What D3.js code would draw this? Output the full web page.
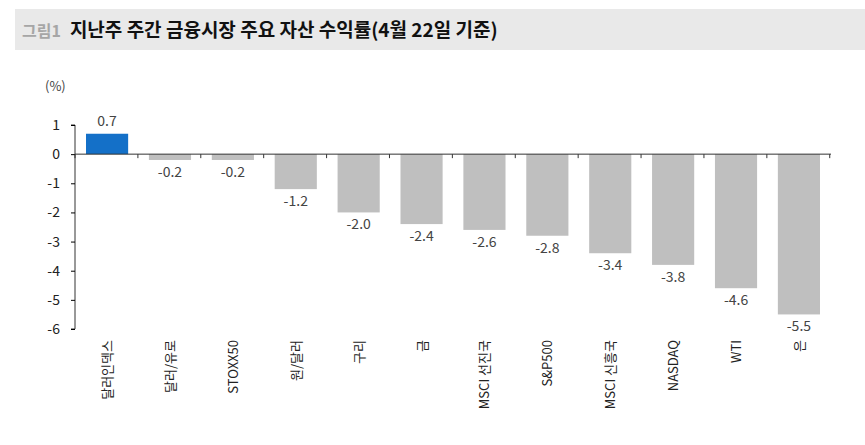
<!DOCTYPE html><html><head><meta charset="utf-8"><script src="https://cdn.jsdelivr.net/npm/d3@7"></script>
<style>body{margin:0;background:#fff}text{font-family:"Noto Sans CJK KR",sans-serif}</style></head><body>
<svg id="c" width="865" height="445"></svg>
<script>
const categories=["달러인덱스","달러/유로","STOXX50","원/달러","구리","금","MSCI 선진국","S&P500","MSCI 신흥국","NASDAQ","WTI","은"];
const values=[0.7,-0.2,-0.2,-1.2,-2.0,-2.4,-2.6,-2.8,-3.4,-3.8,-4.6,-5.5];
const yTicks=[1,0,-1,-2,-3,-4,-5,-6];
const svg=d3.select("#c");
svg.append("rect").attr("x",15).attr("y",9).attr("width",850).attr("height",41).attr("fill","#e9e9e9");
const t=svg.append("text").attr("x",22).attr("y",37).attr("font-size",19).attr("font-weight",600);
t.append("tspan").attr("fill","#a6a6a6").attr("font-size",16).text("그림1");
t.append("tspan").attr("dx",9).attr("fill","#111").text("지난주 주간 금융시장 주요 자산 수익률(4월 22일 기준)");
const x=d3.scaleBand().domain(categories).range([75,831]).paddingInner(0.33).paddingOuter(0.175);
const y=d3.scaleLinear().domain([-6,1]).range([329,125]);
svg.append("text").attr("x",45).attr("y",91).attr("font-size",13).attr("fill","#444").text("(%)");
const ya=svg.append("g").attr("transform","translate(75,0)").call(d3.axisLeft(y).tickValues(yTicks).tickSize(4).tickFormat(d3.format("d")));
ya.select(".domain").attr("stroke","#333").attr("d","M-4,"+y(1)+"H0V"+y(-6)+"H-4");
ya.selectAll("text").attr("font-size",14).attr("fill","#222").attr("dx",-8).text(d=>d<0?"-"+Math.abs(d):d);
svg.selectAll(".bar").data(values).join("rect").attr("x",(d,i)=>x(categories[i])).attr("width",x.bandwidth())
 .attr("y",d=>y(Math.max(0,d))).attr("height",d=>Math.abs(y(d)-y(0))).attr("fill",(d,i)=>i==0?"#1470c8":"#bfbfbf");
const step=x.step();
const xa=svg.append("g").attr("transform",`translate(0,${y(0)})`);
xa.append("line").attr("x1",75).attr("x2",831).attr("stroke","#333");
d3.range(categories.length+1).forEach(i=>xa.append("line").attr("x1",75+i*step).attr("x2",75+i*step).attr("y1",0).attr("y2",4).attr("stroke","#333"));
svg.selectAll(".vl").data(values).join("text").attr("x",(d,i)=>x(categories[i])+x.bandwidth()/2)
 .attr("y",d=>d>0?y(d)-8:y(d)+17).attr("text-anchor","middle").attr("font-size",14).attr("fill","#444")
 .text(d=>d<0?"-"+Math.abs(d).toFixed(1):d.toFixed(1));
svg.selectAll(".cl").data(categories).join("text").attr("transform",d=>`translate(${x(d)+x.bandwidth()/2+5},340) rotate(-90)`)
 .attr("text-anchor","end").attr("font-size",13).attr("fill","#222").text(d=>d);
</script></body></html>
